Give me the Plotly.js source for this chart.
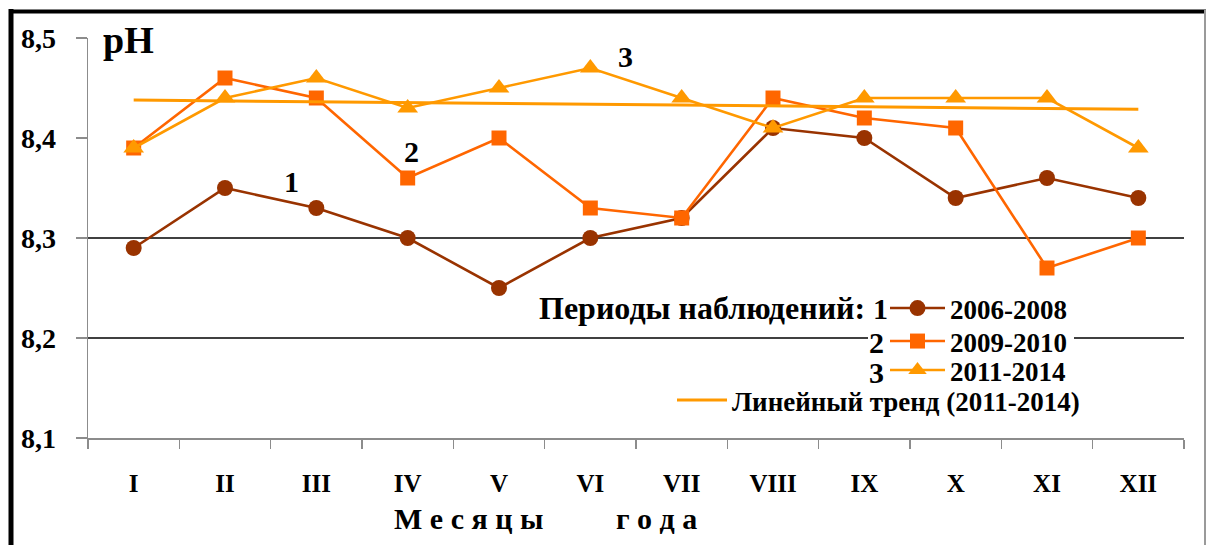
<!DOCTYPE html>
<html>
<head>
<meta charset="utf-8">
<script src="https://cdn.plot.ly/plotly-3.0.1.min.js"></script>
<style>
  html, body { margin: 0; padding: 0; background: #ffffff; }
  #chart { width: 1207px; height: 545px; }
</style>
</head>
<body>
<div id="chart"></div>
<script>
// Monthly mean pH by observation period
const months = ['I', 'II', 'III', 'IV', 'V', 'VI', 'VII', 'VIII', 'IX', 'X', 'XI', 'XII'];
const ph2006_2008 = [8.29, 8.35, 8.33, 8.30, 8.25, 8.30, 8.32, 8.41, 8.40, 8.34, 8.36, 8.34];
const ph2009_2010 = [8.39, 8.46, 8.44, 8.36, 8.40, 8.33, 8.32, 8.44, 8.42, 8.41, 8.27, 8.30];
const ph2011_2014 = [8.39, 8.44, 8.46, 8.43, 8.45, 8.47, 8.44, 8.41, 8.44, 8.44, 8.44, 8.39];
const periodNames = ['2006-2008', '2009-2010', '2011-2014'];
const periodNumbers = ['1', '2', '3'];
const trendName = 'Линейный тренд (2011-2014)';
const yTickValues = [8.1, 8.2, 8.3, 8.4, 8.5];
const gridValues = [8.2, 8.3];

// Least-squares linear trend for the 2011-2014 series
function linearTrend(values) {
  const n = values.length;
  const xs = values.map((_, i) => i + 1);
  const mx = xs.reduce((a, b) => a + b, 0) / n;
  const my = values.reduce((a, b) => a + b, 0) / n;
  let sxy = 0, sxx = 0;
  xs.forEach((x, i) => { sxy += (x - mx) * (values[i] - my); sxx += (x - mx) * (x - mx); });
  const slope = sxy / sxx;
  return xs.map(x => my + slope * (x - mx));
}
const trend2011_2014 = linearTrend(ph2011_2014);

// Plot-area geometry (pixels) and helpers to place decorations in paper units
const W = 1207, H = 545;
const L = 88, R = 1184, T = 38, B = 438;
const px = x => (x - L) / (R - L);
const py = y => (B - y) / (B - T);

const SERIF = '"Liberation Serif", "Times New Roman", serif';
const colors = ['#993300', '#ff6600', '#ff9900'];
const symbols = ['circle', 'square', 'triangle-up'];
const markerSizes = [16, 15, 18];
const seriesValues = [ph2006_2008, ph2009_2010, ph2011_2014];
// each legend row is its own legend so rows can be placed freely
const legendIds = ['legend', 'legend2', 'legend3'];

const traces = seriesValues.map((vals, i) => ({
  type: 'scatter',
  mode: 'lines+markers',
  x: months,
  y: vals,
  name: periodNames[i],
  legend: legendIds[i],
  line: { color: colors[i], width: 2.6 },
  marker: { color: colors[i], symbol: symbols[i], size: markerSizes[i] },
  hoverinfo: 'x+y+name'
}));
traces.push({
  type: 'scatter',
  mode: 'lines',
  x: months,
  y: trend2011_2014,
  name: trendName,
  legend: 'legend4',
  line: { color: '#ff9900', width: 3 },
  hoverinfo: 'skip'
});

const boldFont = (size) => ({ family: SERIF, size: size, color: '#000000', weight: 'bold' });

const shapes = [];
// horizontal reference lines (the lower one is interrupted by the legend)
const gridSpans = { 8.2: [[77, 868], [1074, R]], 8.3: [[77, R]] };
gridValues.forEach(v => gridSpans[v].forEach(([a, b]) => shapes.push({
  type: 'line', xref: 'paper', yref: 'y', x0: px(a), x1: px(b), y0: v, y1: v,
  line: { color: '#000000', width: 1.3 }, layer: 'below'
})));
// frame around the figure
shapes.push({ type: 'line', xref: 'paper', yref: 'paper', x0: px(11), x1: px(11), y0: py(9), y1: py(560),
  line: { color: '#000000', width: 5 }, layer: 'above' });
shapes.push({ type: 'line', xref: 'paper', yref: 'paper', x0: px(9), x1: px(1206), y0: py(11.5), y1: py(11.5),
  line: { color: '#000000', width: 4 }, layer: 'above' });
shapes.push({ type: 'line', xref: 'paper', yref: 'paper', x0: px(1205), x1: px(1205), y0: py(10), y1: py(560),
  line: { color: '#9a9a9a', width: 2 }, layer: 'above' });

const note = (text, x, y, size, xanchor, extra) => Object.assign({
  text: text, xref: 'paper', yref: 'paper', x: px(x), y: py(y),
  xanchor: xanchor || 'center', yanchor: 'middle', showarrow: false, font: boldFont(size)
}, extra || {});
const tight = { borderpad: 0, height: 30 };
const annotations = [
  note('pH', 101, 40, 38, 'left'),
  // series numbers beside the lines
  note(periodNumbers[0], 291, 181, 30),
  note(periodNumbers[1], 411, 151, 30),
  note(periodNumbers[2], 625, 57, 30),
  // legend caption and numbering
  note('Периоды наблюдений:', 867, 308, 32, 'right'),
  note(periodNumbers[0], 889, 308, 30, 'right', tight),
  note(periodNumbers[1], 885, 342, 30, 'right', tight),
  note(periodNumbers[2], 885, 372, 30, 'right', tight),
  // axis caption, letter-spaced
  note('М е с я ц ы', 392, 518, 30, 'left'),
  note('г о д а', 614, 518, 30, 'left')
];

const legendBase = (xPix, topPix, width) => ({
  x: px(xPix), y: py(topPix), xanchor: 'left', yanchor: 'top',
  bgcolor: 'rgba(255,255,255,0)', borderwidth: 0, itemwidth: width,
  font: boldFont(27)
});

const layout = {
  width: W, height: H,
  margin: { l: L, r: W - R, t: T, b: H - B, pad: 0 },
  paper_bgcolor: '#ffffff',
  plot_bgcolor: '#ffffff',
  separators: ', ',
  showlegend: true,
  font: { family: SERIF, color: '#000000' },
  xaxis: {
    type: 'category',
    range: [-0.5, 11.5],
    showline: true, linecolor: '#8c8c8c', linewidth: 1.5,
    ticks: 'outside', tickson: 'boundaries', ticklen: 9, tickcolor: '#8c8c8c', tickwidth: 1.5,
    showgrid: false, zeroline: false,
    ticklabelstandoff: 22,
    tickfont: boldFont(25)
  },
  yaxis: {
    range: [8.1, 8.5],
    tickvals: yTickValues,
    tickformat: '.1f',
    showline: true, linecolor: '#8c8c8c', linewidth: 1.5,
    ticks: 'outside', ticklen: 11, tickcolor: '#8c8c8c', tickwidth: 1.5,
    showgrid: false, zeroline: false,
    ticklabelstandoff: 14,
    tickfont: boldFont(28)
  },
  legend: legendBase(885, 284, 55),
  legend2: legendBase(885, 317, 55),
  legend3: legendBase(885, 346, 55),
  legend4: legendBase(672, 376, 50),
  shapes: shapes,
  annotations: annotations
};

Plotly.newPlot('chart', traces, layout, { displayModeBar: false, staticPlot: true });
</script>
</body>
</html>
